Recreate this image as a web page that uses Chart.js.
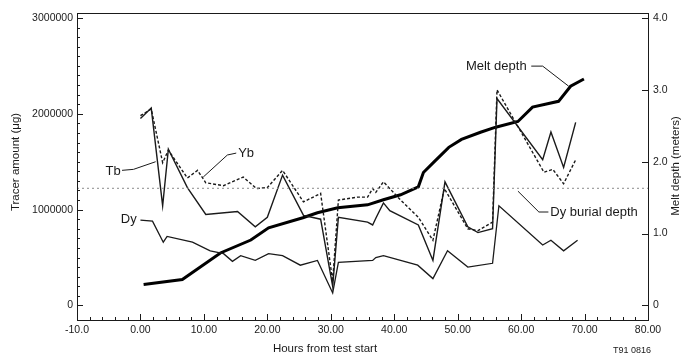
<!DOCTYPE html>
<html><head><meta charset="utf-8">
<script src="https://cdn.jsdelivr.net/npm/chart.js@4"></script>
<style>html,body{margin:0;padding:0;background:#fff}#wrap{width:684px;height:356px}</style>
</head><body><div id="wrap"><canvas id="c" width="684" height="356"></canvas></div>
<script>
// ---- tick labels ----
const xTicks = [-10, 0, 10, 20, 30, 40, 50, 60, 70, 80];
const leftTicks = [0, 1000000, 2000000, 3000000];
const rightTicks = [0, 1, 2, 3, 4];

// ---- series: Tb (µg) ----
const tbHours = [0, 1.7, 3.5, 4.4, 7.4, 10.3, 15.3, 18.1, 20, 22.4, 25.7, 28.4, 30.3, 31.2, 35.8, 36.6, 37.1, 38.3, 39.3, 43.8, 46.1, 48, 51.6, 53.2, 55.5, 56.2, 63.4, 64.7, 66.7, 68.6];
const tbValues = [1950000, 2060000, 1040000, 1630000, 1230000, 950000, 980000, 820000, 920000, 1360000, 940000, 900000, 200000, 920000, 870000, 840000, 910000, 1070000, 990000, 840000, 470000, 1290000, 820000, 760000, 800000, 2160000, 1520000, 1810000, 1440000, 1910000];

// ---- series: Yb (µg) ----
const ybHours = [0, 1.7, 3.5, 4.4, 7.4, 9, 10.3, 13.1, 16.2, 18.3, 20, 22.4, 25.7, 28.4, 30.3, 31.2, 34.2, 35.8, 36.6, 37.1, 38.3, 41, 43.8, 46.1, 47.9, 51.6, 53.2, 55.5, 56.2, 63.6, 65, 66.7, 68.6];
const ybValues = [1980000, 2050000, 1490000, 1620000, 1330000, 1410000, 1280000, 1250000, 1340000, 1220000, 1230000, 1410000, 1080000, 1170000, 250000, 1100000, 1130000, 1130000, 1220000, 1180000, 1290000, 1100000, 920000, 680000, 1220000, 800000, 780000, 870000, 2250000, 1390000, 1420000, 1270000, 1520000];

// ---- series: Dy (µg) ----
const dyHours = [0, 1.9, 3.6, 4.2, 8.2, 11, 13.1, 14.5, 15.8, 18.1, 20.2, 22.4, 25.2, 27.9, 30.3, 31.2, 36.6, 37.1, 38.3, 41, 43.7, 46.1, 48.4, 51.6, 55.5, 56.5, 63.4, 64.7, 66.7, 68.9];
const dyValues = [890000, 880000, 660000, 720000, 660000, 570000, 540000, 460000, 520000, 470000, 540000, 520000, 420000, 470000, 130000, 450000, 470000, 500000, 520000, 470000, 420000, 280000, 570000, 400000, 440000, 1040000, 630000, 680000, 570000, 680000];

// ---- series: Melt depth (m) ----
const meltHours = [0.5, 6.6, 12.6, 17.4, 20.2, 25.6, 27.9, 31.1, 35.8, 38.3, 41, 43.8, 44.6, 46.2, 48.6, 50.6, 53.6, 56, 59.5, 61.8, 65.9, 67.8, 69.9];
const meltValues = [0.29, 0.36, 0.73, 0.91, 1.08, 1.22, 1.29, 1.36, 1.40, 1.47, 1.54, 1.65, 1.85, 1.99, 2.20, 2.31, 2.41, 2.48, 2.56, 2.76, 2.84, 3.05, 3.15];

// ---- Dy burial depth (m) ----
const burialHours = [-10, 80];
const burialDepth = 1.63;

const pts = (hs, vs) => hs.map((h, i) => ({x: h, y: vs[i]}));
const FONT = '"Liberation Sans", Arial, Helvetica, sans-serif';
const INK = '#1a1a1a';

// annotation labels (data coordinates)
const notes = [
  {text: 'Tb', axis: 'y', at: [-3.1, 1.40e6], align: 'right', leader: [[-2.9, 1.41e6], [-1.1, 1.42e6], [2.4, 1.50e6]]},
  {text: 'Yb', axis: 'y', at: [15.4, 1.59e6], align: 'left', leader: [[15.1, 1.59e6], [13.7, 1.57e6], [9.9, 1.34e6]]},
  {text: 'Dy', axis: 'y', at: [-0.6, 0.90e6], align: 'right', leader: []},
  {text: 'Melt depth', axis: 'y2', at: [51.3, 3.33], align: 'left', leader: [[61.6, 3.33], [63.4, 3.33], [67.5, 3.05]]},
  {text: 'Dy burial depth', axis: 'y2', at: [64.6, 1.29], align: 'left', leader: [[59.5, 1.59], [62.8, 1.30], [64.3, 1.30]]}
];

const decor = {
  id: 'decor',
  afterDraw(chart) {
    const {ctx, chartArea: a, scales} = chart;
    const x = scales.x, y = scales.y, y2 = scales.y2;
    ctx.save();
    ctx.strokeStyle = INK; ctx.lineWidth = 1;
    ctx.strokeRect(Math.round(a.left) + 0.5, Math.round(a.top) + 0.5, Math.round(a.right - a.left), Math.round(a.bottom - a.top));
    const seg = (x1, y1, x2, y2_) => { ctx.beginPath(); ctx.moveTo(x1, y1); ctx.lineTo(x2, y2_); ctx.stroke(); };
    // x ticks (inward)
    for (let v = -10; v <= 80; v += 2) {
      const px = Math.round(x.getPixelForValue(v)) + 0.5;
      seg(px, a.bottom, px, a.bottom - (v % 10 === 0 ? 6 : 3));
    }
    // left ticks
    for (let v = 0; v <= 3000000; v += 100000) {
      const py = Math.round(y.getPixelForValue(v)) + 0.5;
      seg(a.left, py, a.left + (v % 1000000 === 0 ? 6 : 3), py);
    }
    // right ticks
    for (const v of rightTicks) {
      const py = Math.round(y2.getPixelForValue(v)) + 0.5;
      seg(a.right, py, a.right - 6, py);
    }
    // axis titles
    ctx.fillStyle = INK;
    ctx.font = '11.5px ' + FONT;
    ctx.textAlign = 'center'; ctx.textBaseline = 'middle';
    ctx.save(); ctx.translate(16, 162); ctx.rotate(-Math.PI / 2); ctx.fillText('Tracer amount (μg)', 0, 0); ctx.restore();
    ctx.save(); ctx.translate(676, 166); ctx.rotate(-Math.PI / 2); ctx.fillText('Melt depth (meters)', 0, 0); ctx.restore();
    ctx.fillText('Hours from test start', 325, 349);
    ctx.font = '9px ' + FONT;
    ctx.fillText('T91 0816', 632, 351);
    // annotations
    ctx.font = '13px ' + FONT;
    ctx.lineWidth = 1;
    for (const n of notes) {
      const ys = scales[n.axis];
      ctx.textAlign = n.align;
      ctx.fillText(n.text, x.getPixelForValue(n.at[0]), ys.getPixelForValue(n.at[1]));
      if (n.leader.length) {
        ctx.beginPath();
        n.leader.forEach((p, i) => {
          const px = x.getPixelForValue(p[0]), py = ys.getPixelForValue(p[1]);
          if (i) ctx.lineTo(px, py); else ctx.moveTo(px, py);
        });
        ctx.stroke();
      }
    }
    ctx.restore();
  }
};

const fixedTicks = vals => scale => { scale.ticks = vals.map(v => ({value: v})); };

new Chart(document.getElementById('c'), {
  type: 'line',
  data: {
    datasets: [
      {label: 'Dy burial depth', data: pts(burialHours, burialHours.map(() => burialDepth)), yAxisID: 'y2', borderColor: '#8a8a8a', borderWidth: 1, borderDash: [2, 3], pointRadius: 0, tension: 0},
      {label: 'Dy', data: pts(dyHours, dyValues), yAxisID: 'y', borderColor: INK, borderWidth: 1.3, pointRadius: 0, tension: 0},
      {label: 'Yb', data: pts(ybHours, ybValues), yAxisID: 'y', borderColor: INK, borderWidth: 1.4, borderDash: [3, 2], pointRadius: 0, tension: 0},
      {label: 'Tb', data: pts(tbHours, tbValues), yAxisID: 'y', borderColor: INK, borderWidth: 1.4, pointRadius: 0, tension: 0},
      {label: 'Melt depth', data: pts(meltHours, meltValues), yAxisID: 'y2', borderColor: '#000', borderWidth: 3, pointRadius: 0, tension: 0}
    ]
  },
  options: {
    responsive: false,
    animation: false,
    devicePixelRatio: 1,
    layout: {padding: {top: 13, left: 0, right: 0, bottom: 0}},
    plugins: {legend: {display: false}, tooltip: {enabled: false}},
    scales: {
      x: {
        type: 'linear', min: -10, max: 80,
        afterBuildTicks: fixedTicks(xTicks),
        afterFit: s => { s.height = 36; },
        grid: {display: false, drawTicks: false}, border: {display: false},
        ticks: {padding: 4, color: INK, font: {family: FONT, size: 10.5}, maxRotation: 0, autoSkip: false,
          callback: v => v === -10 ? '-10.0' : Number(v).toFixed(2)}
      },
      y: {
        type: 'linear', position: 'left', min: -152000, max: 3052000,
        afterBuildTicks: fixedTicks(leftTicks),
        afterFit: s => { s.width = 77; },
        grid: {display: false, drawTicks: false}, border: {display: false},
        ticks: {padding: 4, color: INK, font: {family: FONT, size: 10.5}, autoSkip: false, callback: v => String(v)}
      },
      y2: {
        type: 'linear', position: 'right', min: -0.2027, max: 4.069,
        afterBuildTicks: fixedTicks(rightTicks),
        afterFit: s => { s.width = 36; },
        grid: {display: false, drawTicks: false}, border: {display: false},
        ticks: {padding: 5, color: INK, font: {family: FONT, size: 10.5}, autoSkip: false, callback: v => v === 0 ? '0' : Number(v).toFixed(1)}
      }
    }
  },
  plugins: [decor]
});
</script>
</body></html>
